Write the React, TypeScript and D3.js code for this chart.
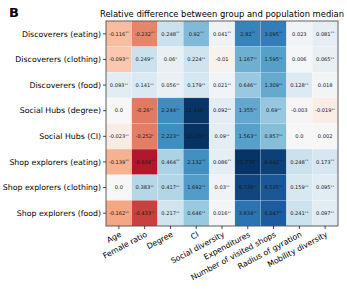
import React from "react";
import * as d3 from "d3";

const rows = [
  "Discoverers (eating)",
  "Discoverers (clothing)",
  "Discoverers (food)",
  "Social Hubs (degree)",
  "Social Hubs (CI)",
  "Shop explorers (eating)",
  "Shop explorers (clothing)",
  "Shop explorers (food)",
];

const cols = [
  "Age",
  "Female ratio",
  "Degree",
  "CI",
  "Social diversity",
  "Expenditures",
  "Number of visited shops",
  "Radius of gyration",
  "Mobility diversity",
];

const values: number[][] = [
  [-0.116, -0.232, 0.248, 0.92, 0.041, 2.82, 3.095, 0.023, 0.081],
  [-0.093, 0.249, 0.06, 0.224, -0.01, 1.167, 1.595, 0.006, 0.065],
  [0.093, 0.141, 0.056, 0.179, 0.021, 0.646, 1.309, 0.128, 0.018],
  [0.0, -0.26, 2.244, 11.438, 0.092, 1.355, 0.69, -0.003, -0.019],
  [-0.023, -0.252, 2.223, 12.131, 0.09, 1.563, 0.857, 0.0, 0.002],
  [-0.139, -0.604, 0.464, 2.132, 0.086, 11.778, 9.642, 0.248, 0.173],
  [0.0, 0.383, 0.417, 1.692, 0.03, 8.739, 6.535, 0.159, 0.095],
  [-0.162, -0.433, 0.217, 0.646, 0.016, 3.834, 6.047, 0.241, 0.097],
];

const stars: string[][] = [
  ["**", "**", "**", "**", "**", "**", "**", "", "**"],
  ["**", "**", "*", "**", "", "**", "**", "", "**"],
  ["**", "**", "**", "**", "**", "**", "**", "**", ""],
  ["", "**", "**", "**", "**", "**", "**", "", "**"],
  ["**", "*", "**", "**", "**", "**", "**", "", ""],
  ["**", "**", "**", "**", "**", "**", "**", "**", "**"],
  ["", "**", "**", "**", "**", "**", "**", "**", "**"],
  ["**", "**", "**", "**", "**", "**", "**", "**", "**"],
];

const title = "Relative difference between group and population median";

// ColorBrewer RdBu_r stops (linear interpolation, like matplotlib)
const rdbuStops = [
  "#053061", "#2166ac", "#4393c3", "#92c5de", "#d1e5f0", "#f7f7f7",
  "#fddbc7", "#f4a582", "#d6604d", "#b2182b", "#67001f",
];

const W = 347;
const H = 289;
const left = 106;
const right = 338;
const top = 21;
const bottom = 226;

const FONT = "DejaVu Sans, Verdana, sans-serif";

function fmt(v: number): string {
  if (Number.isInteger(v)) return v.toFixed(1);
  return String(v);
}

const rdbu = d3
  .scaleLinear<string>()
  .domain(d3.range(11).map((i) => i / 10))
  .range(rdbuStops.slice().reverse())
  .interpolate(d3.interpolateRgb);

const posScale = d3.scaleLog().domain([1, 1 + 12.5 / 0.15]).range([0, 1]).clamp(true);
const negScale = d3.scaleLog().domain([1, 1 + 1.05 / 0.1]).range([0, 1]).clamp(true);

function color(v: number): string {
  if (v >= 0) {
    const t = posScale(1 + v / 0.15);
    return rdbu(0.5 + 0.5 * t);
  }
  const t = negScale(1 + -v / 0.1);
  return rdbu(0.5 - 0.5 * t);
}

export default function App() {
  const x = d3.scaleBand<string>().domain(cols).range([left, right]);
  const y = d3.scaleBand<string>().domain(rows).range([top, bottom]);
  const frame = "#4d4d4d";
  return (
    <svg
      width={W}
      height={H}
      style={{ position: "absolute", left: 0, top: 0 }}
      fontFamily={FONT}
    >
      <rect width={W} height={H} fill="#ffffff" />
      <text x={9} y={17} fontSize={13} fontWeight="bold" fill="#000">
        B
      </text>
      <text x={(left + right) / 2 + 0} y={17} fontSize={8.4} textAnchor="middle" fill="#000">
        {title}
      </text>
      {rows.map((r, i) =>
        cols.map((c, j) => {
          const v = values[i][j];
          return (
            <g key={r + c}>
              <rect
                x={x(c)!}
                y={y(r)!}
                width={x.bandwidth()}
                height={y.bandwidth()}
                fill={color(v)}
                stroke="#ffffff"
                strokeOpacity={0.25}
                strokeWidth={0.5}
              />
              <text
                x={x(c)! + x.bandwidth() / 2}
                y={y(r)! + y.bandwidth() / 2 + 1.8}
                fontSize={5.1}
                textAnchor="middle"
                fill="#1a1a1a"
              >
                {fmt(v)}
                {stars[i][j] ? (
                  <tspan fontSize={3.6} dy={-1.3}>
                    {stars[i][j]}
                  </tspan>
                ) : null}
              </text>
            </g>
          );
        })
      )}
      <rect
        x={left}
        y={top}
        width={right - left}
        height={bottom - top}
        fill="none"
        stroke={frame}
        strokeWidth={0.9}
      />
      {rows.map((r) => {
        const cy = y(r)! + y.bandwidth() / 2;
        return (
          <g key={"yl" + r}>
            <line x1={left - 3} x2={left} y1={cy} y2={cy} stroke="#000" strokeWidth={0.7} />
            <text x={left - 5} y={cy + 2.8} fontSize={7.8} textAnchor="end" fill="#000">
              {r}
            </text>
          </g>
        );
      })}
      {cols.map((c) => {
        const cx = x(c)! + x.bandwidth() / 2;
        return (
          <g key={"xl" + c}>
            <line x1={cx} x2={cx} y1={bottom} y2={bottom + 3} stroke="#000" strokeWidth={0.7} />
            <text
              transform={`translate(${cx + 3},${bottom + 10}) rotate(-28)`}
              fontSize={7.8}
              textAnchor="end"
              fill="#000"
            >
              {c}
            </text>
          </g>
        );
      })}
    </svg>
  );
}
